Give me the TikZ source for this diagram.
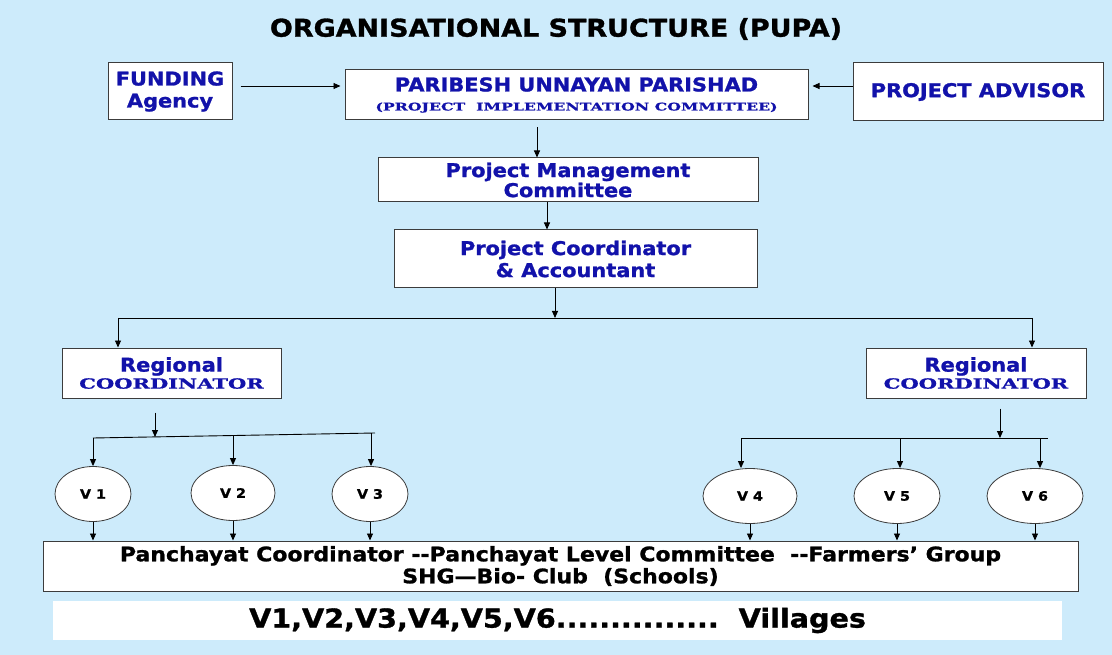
\documentclass[tikz,border=0pt]{standalone}
\usepackage{fontspec}
\setmainfont{DejaVu Sans}
\newfontfamily\heavyfont[FakeStretch=1.1,BoldFeatures={FakeBold=1.2}]{DejaVu Sans}
\newfontfamily\widefont[FakeStretch=1.5,BoldFeatures={FakeBold=1}]{DejaVu Serif}
\usetikzlibrary{arrows,arrows.meta,shapes}
\definecolor{bgblue}{RGB}{205,235,251}
\definecolor{txtblue}{RGB}{18,18,170}
\definecolor{linegray}{RGB}{60,60,60}
\tikzstyle{box}=[rectangle,draw=linegray,fill=white,line width=1pt,align=center,inner sep=0pt,text=txtblue,font=\heavyfont\bfseries\fontsize{19}{22}\selectfont]
\tikzstyle{village}=[ellipse,draw=linegray,fill=white,line width=0.8pt,inner sep=0pt,font=\heavyfont\bfseries\fontsize{13}{14}\selectfont]
\tikzstyle{edge}=[draw,line width=0.9pt,-{Triangle[length=7pt,width=6pt]}]
\tikzstyle{bus}=[draw,line width=0.9pt]

\begin{document}
\begin{tikzpicture}[x=1pt,y=-1pt]
    \fill[bgblue] (0,0) rectangle (1112,655);
    \useasboundingbox (0,0) rectangle (1112,655);
    % title
    \node[font=\heavyfont\bfseries\fontsize{24.5}{28}\selectfont] (title) at (556,29) {ORGANISATIONAL STRUCTURE (PUPA)};
    % top row
    \node[box, minimum width=124pt, minimum height=57pt] (fund) at (170,91.5) {FUNDING\\Agency};
    \node[box, minimum width=463pt, minimum height=50pt] (parib) at (576.5,95)
        {PARIBESH UNNAYAN PARISHAD\\[-3pt]{\widefont\fontsize{10.5}{12}\selectfont (PROJECT\ \ IMPLEMENTATION COMMITTEE)}};
    \node[box, minimum width=250pt, minimum height=58pt] (adv) at (978,92) {PROJECT ADVISOR};
    % management chain
    \node[box, minimum width=380pt, minimum height=44pt] (pmc) at (568,180) {Project Management\\[-2pt]Committee};
    \node[box, minimum width=363pt, minimum height=58pt] (pca) at (575.5,259) {Project Coordinator\\\& Accountant};
    % regional coordinators
    \node[box, minimum width=219pt, minimum height=50pt] (regl) at (171.5,373) {Regional\\[-5pt]{\widefont\fontsize{14}{15}\selectfont COORDINATOR}};
    \node[box, minimum width=220pt, minimum height=50pt] (regr) at (976,373) {Regional\\[-5pt]{\widefont\fontsize{14}{15}\selectfont COORDINATOR}};
    % villages
    \foreach \pos/\name/\w in {{(93,494)/1/76}, {(233,493)/2/84}, {(370,494)/3/76},
                               {(750,496)/4/94}, {(897,496)/5/86}, {(1035,496)/6/96}}
        \node[village, minimum width=\w pt, minimum height=55pt] (v\name) at \pos {V\ \name};
    % bottom boxes
    \node[box, text=black, font=\heavyfont\bfseries\fontsize{20}{22}\selectfont, minimum width=1035pt, minimum height=50pt] (panch) at (560.5,566)
        {Panchayat Coordinator -{}-Panchayat Level Committee\ \ -{}-Farmers’\ Group\\SHG—Bio- Club\ \ (Schools)};
    \node[fill=white, minimum width=1009pt, minimum height=39pt, font=\heavyfont\bfseries\fontsize{26}{28}\selectfont] (vill) at (557.5,620.5)
        {V1,V2,V3,V4,V5,V6...............\ \ Villages};
    % bus points
    \coordinate (top) at (555,318);
    \coordinate (busl) at (118,318);
    \coordinate (busr) at (1032,318);
    \coordinate (subl) at (155,437);
    \coordinate (subr) at (1000,438);
    \coordinate (t1) at (93,438);
    \coordinate (t2) at (233,435.5);
    \coordinate (t3) at (371,433);
    \coordinate (t3e) at (375,433);
    \coordinate (t4) at (741,438);
    \coordinate (t5) at (900,438);
    \coordinate (t6) at (1040,438);
    \coordinate (t6e) at (1048,438);
    % top arrows
    \path[edge, shorten <=8pt, shorten >=4pt] ([yshift=5.5pt]fund.east) -- ([yshift=9pt]parib.west);
    \path[edge, shorten >=4pt] ([yshift=6pt]adv.west) -- ([yshift=9pt]parib.east);
    \path[edge, shorten <=7pt] ([xshift=-39.5pt]parib.south) -- ([xshift=-31pt]pmc.north);
    \path[edge] ([xshift=-21pt]pmc.south) -- ([xshift=-28.5pt]pca.north);
    \path[edge] ([xshift=-20.5pt]pca.south) -- (top);
    % regional branches
    \path[bus] (busl) -- (busr);
    \path[edge] (busl) -- (busl |- regl.north);
    \path[edge] (busr) -- (busr |- regr.north);
    \path[edge, shorten <=14pt] (subl |- regl.south) -- (subl);
    \path[edge, shorten <=10pt] (subr |- regr.south) -- (subr);
    \path[bus] (t1) -- (t3e);
    \path[bus] (t4) -- (t6e);
    \foreach \n in {1,...,6}
        \path[edge] (t\n) -- (t\n |- v\n.north);
    \foreach \n in {1,...,6}
        \path[edge] (v\n.south) -- (v\n.south |- panch.north);
\end{tikzpicture}
\end{document}
